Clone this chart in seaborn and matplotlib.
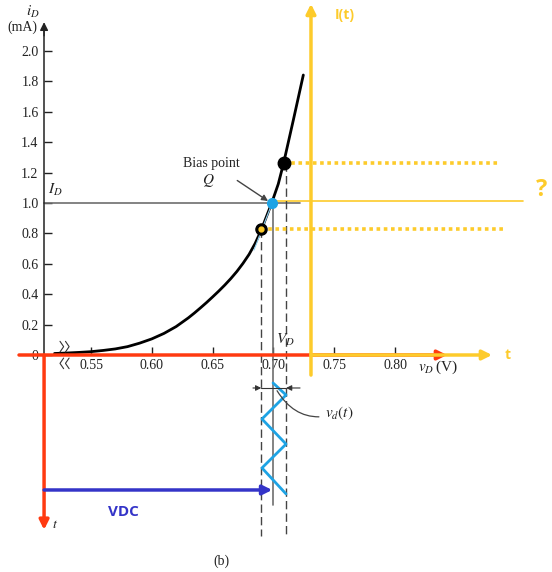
import numpy as np
import pandas as pd
import matplotlib.pyplot as plt
import seaborn as sns

# diode characteristic (vD in V, iD in mA)
vd = [0.520, 0.530, 0.540, 0.550, 0.560, 0.570, 0.580, 0.590, 0.600, 0.610,
      0.620, 0.630, 0.635, 0.640, 0.645, 0.650, 0.655, 0.660, 0.665, 0.670,
      0.675, 0.680, 0.685, 0.690, 0.6986, 0.7040, 0.7082, 0.7164, 0.7246]
id_ma = [0.010, 0.013, 0.017, 0.022, 0.030, 0.040, 0.055, 0.078, 0.106, 0.142,
         0.187, 0.244, 0.276, 0.310, 0.345, 0.382, 0.420, 0.460, 0.503, 0.550,
         0.603, 0.662, 0.734, 0.822, 1.000, 1.125, 1.256, 1.546, 1.842]

x_ticks = [0.55, 0.60, 0.65, 0.70, 0.75, 0.80]
y_ticks = [0, 0.2, 0.4, 0.6, 0.8, 1.0, 1.2, 1.4, 1.6, 1.8, 2.0]

# bias point and swing ends
VQ, IQ = 0.699, 1.0
v_lo, i_lo = 0.690, 0.827
v_hi, i_hi = 0.7090, 1.263

# small-signal triangle wave drawn along a downward time axis
wave_t = [-0.184, -0.263, -0.421, -0.586, -0.743, -0.914]
wave_v = [0.6997, 0.7104, 0.6906, 0.7104, 0.6906, 0.7104]

V_AXIS = 0.5114     # where the iD axis sits
T_END = -1.15       # bottom of the red time axis
I_T_X = 0.7309      # yellow I(t) axis

RED = "#ff3a10"
YEL = "#fdcb2b"
BLUE = "#1ea3e4"
VDC_BLUE = "#3434c8"
GRAY = "#6e6e6e"

sns.set_theme(style="white")
plt.rcParams["font.family"] = ["Liberation Serif", "DejaVu Sans"]
plt.rcParams["mathtext.fontset"] = "stix"

fig = plt.figure(figsize=(5.52, 5.72), dpi=100)
ax = fig.add_axes([0, 0, 1, 1])
ax.set_xlim(0.47516, 0.92911)
ax.set_ylim(-1.4276, 2.3355)

# axes: only left spine kept, moved onto the data
for s in ["top", "right"]:
    ax.spines[s].set_visible(False)
ax.spines["left"].set_position(("data", V_AXIS))
ax.spines["left"].set_bounds(0, 2.17)
ax.spines["left"].set_color("#222222")
ax.spines["left"].set_linewidth(1.1)
ax.spines["bottom"].set_position(("data", 0))
ax.spines["bottom"].set_visible(False)

ax.set_xticks(x_ticks, labels=[f"{t:.2f}" for t in x_ticks])
ax.set_yticks(y_ticks, labels=["0" if t == 0 else f"{t:.1f}" for t in y_ticks])
ax.tick_params(axis="both", direction="in", length=6, width=1, colors="#222222",
               labelsize=10, bottom=True, left=True)
ax.tick_params(axis="x", pad=3)
ax.tick_params(axis="y", pad=4)
ax.annotate("", xy=(V_AXIS, 2.19), xytext=(V_AXIS, 2.10),
            arrowprops=dict(arrowstyle="-|>", color="#222222", lw=1, mutation_scale=12,
                            shrinkA=0, shrinkB=0))

# I_D reference line (gray) and the yellow output line
ax.plot([V_AXIS, 0.7219], [IQ, IQ], color=GRAY, lw=1.2)
ax.plot([0.700, 0.9053], [1.013, 1.013], color=YEL, lw=1.2)

# dashed projections of the swing ends, solid one for the bias
ax.plot([v_lo, v_lo], [i_lo, -1.19], color="#444444", lw=1, ls=(0, (6, 3)))
ax.plot([0.7104, 0.7104], [i_hi, -1.19], color="#444444", lw=1, ls=(0, (6, 3)))
ax.plot([VQ + 0.0007, VQ + 0.0007], [IQ, -0.987], color=GRAY, lw=1.2)

# the curve and its light-blue tangent at Q
curve = pd.DataFrame({"vD": vd, "iD": id_ma})
sns.lineplot(data=curve, x="vD", y="iD", ax=ax, color="black", lw=2, sort=True,
             solid_joinstyle="round")
ax.plot([VQ, 0.684], [IQ, 0.69], color="#8fd0f0", lw=0.8)
ax.set_xlabel("")
ax.set_ylabel("")

# yellow dotted output levels
ax.plot([v_lo, 0.8896], [i_lo, i_lo], color=YEL, lw=2.6, ls=(0, (1, 1)))
ax.plot([v_hi, 0.8864], [i_hi, i_hi], color=YEL, lw=2.6, ls=(0, (1, 1)))

# points
ax.plot([v_hi], [i_hi], "o", color="black", ms=9)
ax.plot([v_lo], [i_lo], "o", color="black", ms=8)
ax.plot([v_lo], [i_lo], "o", color=YEL, ms=3.5)
ax.plot([VQ], [IQ], "o", color=BLUE, ms=7)

# red axes (horizontal vD axis and downward time axis)
ax.annotate("", xy=(0.8428, 0), xytext=(0.4908, 0),
            arrowprops=dict(arrowstyle="-|>", color=RED, lw=2.5, mutation_scale=14,
                            shrinkA=0, shrinkB=0))
ax.annotate("", xy=(V_AXIS, T_END), xytext=(V_AXIS, 0),
            arrowprops=dict(arrowstyle="-|>", color=RED, lw=2.5, mutation_scale=14,
                            shrinkA=0, shrinkB=0))

# yellow I(t) axes
ax.annotate("", xy=(I_T_X, 2.31), xytext=(I_T_X, -0.132),
            arrowprops=dict(arrowstyle="-|>", color=YEL, lw=2.5, mutation_scale=14,
                            shrinkA=0, shrinkB=0))
ax.annotate("", xy=(0.8798, 0), xytext=(I_T_X, 0),
            arrowprops=dict(arrowstyle="-|>", color=YEL, lw=2.5, mutation_scale=14,
                            shrinkA=0, shrinkB=0))

# broken-axis marks
for dx in [0, 0.0045]:
    ax.plot([0.5245 + dx, 0.5275 + dx, 0.5245 + dx], [0.09, 0.055, 0.02], color="#333333", lw=0.8)
    ax.plot([0.5275 + dx, 0.5245 + dx, 0.5275 + dx], [-0.02, -0.055, -0.09], color="#333333", lw=0.8)

# triangle wave vD(t)
ax.plot(wave_v, wave_t, color=BLUE, lw=2)

# peak-to-peak markers
ax.annotate("", xy=(v_lo, -0.217), xytext=(0.6832, -0.217),
            arrowprops=dict(arrowstyle="-|>", color="#333333", lw=0.8, mutation_scale=8,
                            shrinkA=0, shrinkB=0))
ax.annotate("", xy=(0.7104, -0.217), xytext=(0.7219, -0.217),
            arrowprops=dict(arrowstyle="-|>", color="#333333", lw=0.8, mutation_scale=8,
                            shrinkA=0, shrinkB=0))
ax.plot([v_lo, 0.7104], [-0.217, -0.217], color="#333333", lw=0.8)

# DC level arrow
ax.annotate("", xy=(VQ, -0.888), xytext=(V_AXIS, -0.888),
            arrowprops=dict(arrowstyle="-|>", color=VDC_BLUE, lw=2.5, mutation_scale=14,
                            shrinkA=0, shrinkB=0))

# bias point arrow
ax.annotate("Bias point", xy=(0.6956, 1.013), xytext=(0.6487, 1.263),
            ha="center", va="center", fontsize=10, color="#222222",
            arrowprops=dict(arrowstyle="-|>", color="#444444", lw=1, mutation_scale=9,
                            shrinkA=10, shrinkB=0))
ax.text(0.6462, 1.151, r"$Q$", ha="center", va="center", fontsize=11, color="#222222")

# vd(t) leader
ax.annotate(r"$v_d(t)$", xy=(0.7030, -0.235), xytext=(0.7424, -0.382),
            ha="left", va="center", fontsize=11, color="#222222",
            arrowprops=dict(arrowstyle="-", color="#444444", lw=0.9,
                            connectionstyle="arc3,rad=-0.4", shrinkA=2, shrinkB=0))

# labels
ax.text(0.5023, 2.257, r"$i_D$", ha="center", va="center", fontsize=11, color="#222222")
ax.text(0.4933, 2.158, "(mA)", ha="center", va="center", fontsize=10, color="#222222")
ax.text(0.5145, 1.086, r"$I_D$", ha="left", va="center", fontsize=11, color="#222222")
ax.text(0.7021, 0.099, r"$V_D$", ha="left", va="center", fontsize=11, color="#222222")
ax.text(0.8190, -0.079, r"$v_D\,$(V)", ha="left", va="center", fontsize=11, color="#222222")
ax.text(0.5179, -1.118, r"$t$", ha="left", va="center", fontsize=10, color="#222222")
ax.text(0.6569, -1.355, "(b)", ha="center", va="center", fontsize=10, color="#222222")

ax.text(0.7507, 2.237, "I(t)", ha="left", va="center", fontsize=10, color=YEL,
        family=["Open Sans", "DejaVu Sans"], fontweight="bold")
ax.text(0.8905, 0.0, "t", ha="left", va="center", fontsize=10, color=YEL,
        family=["Open Sans", "DejaVu Sans"], fontweight="bold")
ax.text(0.9209, 1.086, "?", ha="center", va="center", fontsize=17, color=YEL,
        family=["Open Sans", "DejaVu Sans"], fontweight="bold")
ax.text(0.5763, -1.033, "VDC", ha="center", va="center", fontsize=11, color=VDC_BLUE,
        family=["Open Sans", "DejaVu Sans"], fontweight="bold")

fig.savefig("out.png", dpi=100)
